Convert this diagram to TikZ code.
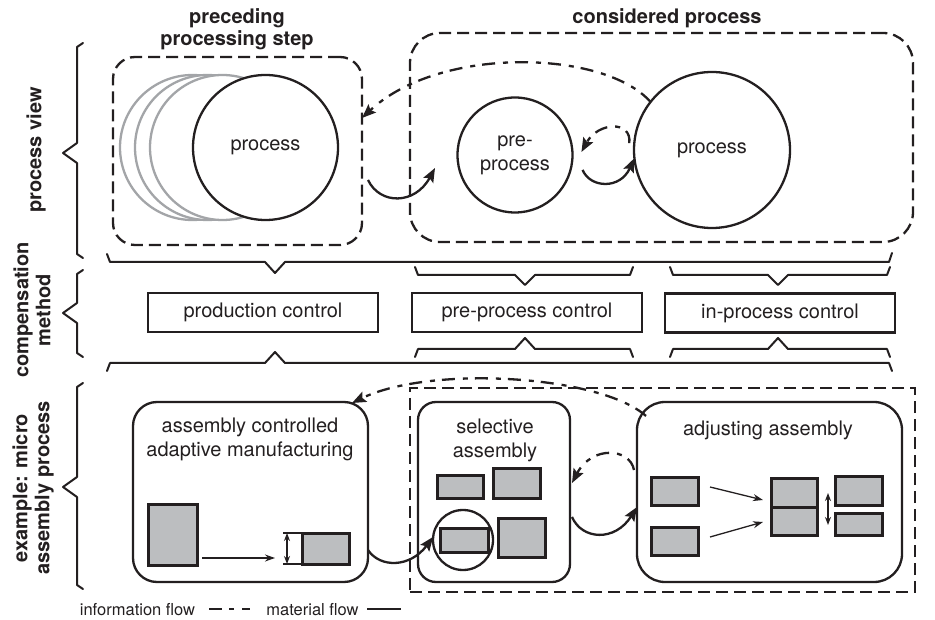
\documentclass[tikz,border=0pt]{standalone}
\usepackage{fontspec}
\setmainfont{TeX Gyre Heros}
\usetikzlibrary{arrows.meta}
\definecolor{ink}{HTML}{231F20}
\definecolor{gfill}{HTML}{BCBEC0}
\definecolor{gline}{HTML}{A3A5A8}
\begin{document}
\begin{tikzpicture}[x=1pt,y=-1pt,line width=2.3pt,color=ink,
  every node/.style={inner sep=0pt,outer sep=0pt},
  txt/.style={font=\fontsize{20}{24}\selectfont,align=center},
  btxt/.style={font=\fontsize{20}{22}\selectfont\bfseries,align=center},
  ltxt/.style={font=\fontsize{16.5}{18}\selectfont},
  dbox/.style={draw,dash pattern=on 12pt off 6pt,rounded corners=#1},
  sbox/.style={draw,rounded corners=#1},
  cbox/.style={draw,txt,minimum width=230pt,minimum height=39pt},
  gbox/.style={draw,fill=gfill,line width=3pt},
  tip/.style={-{Stealth[length=14pt,width=11pt,inset=2.5pt]}},
  info/.style={tip,dash pattern=on 13pt off 7pt on 5pt off 8pt},
  mat/.style={tip},
  thinarr/.style={line width=1.3pt,-{Stealth[length=10pt,width=7pt]}},
  dimarr/.style={line width=1.3pt,{Stealth[length=8pt,width=6pt]}-{Stealth[length=8pt,width=6pt]}},
  brc/.style={line width=2pt,line join=round,line cap=round}]
\useasboundingbox (0,0) rectangle (935,620);

% titles and side labels
\node[btxt] (t1) at (237,29) {preceding\\processing step};
\node[btxt] (t2) at (667,18) {considered process};
\node[btxt,rotate=90] (l1) at (36,150) {process view};
\node[btxt,rotate=90] (l2) at (32,310) {compensation\\method};
\node[btxt,rotate=90] (l3) at (33,488) {example: micro\\assembly process};

% side braces
\draw[brc] (83,43) -- (77,47) -- (77,143) -- (63,153) -- (77,163) -- (77,254) -- (83,258);
\draw[brc] (83,270) -- (77,274) -- (77,303) -- (63,313) -- (77,323) -- (77,353) -- (83,357);
\draw[brc] (83,383) -- (77,387) -- (77,477) -- (63,487) -- (77,497) -- (77,585) -- (83,589);

% process view: preceding step
\node[dbox=22pt,minimum width=249pt,minimum height=188pt] (prec) at (237.5,151) {};
\foreach \x/\n in {192.5/ga,207.5/gb,222.5/gc}
  \node[circle,draw=gline,fill=white,minimum size=145pt] (\n) at (\x,147.5) {};
\node[circle,draw,fill=white,minimum size=145pt,txt] (pp) at (265.5,147.5) {process};

% considered process
\node[dbox=30pt,minimum width=503pt,minimum height=209pt] (cons) at (661.5,137.5) {};
\node[circle,draw,minimum size=115pt,txt] (pre) at (515,155) {pre-\\process};
\node[circle,draw,minimum size=156pt,txt] (bigc) at (712,150) {process};

% flows in process view
\draw[info] (bigc.142) .. controls (605,50) and (440,45) .. ([yshift=33pt]prec.east);
\draw[mat] ([xshift=6pt,yshift=-29pt]prec.east) .. controls (380,205) and (415,205) .. ([xshift=-80pt,yshift=-13pt]pre.center);
\draw[info] ([xshift=-5pt]bigc.175) .. controls (632,120) and (598,122) .. ([xshift=9pt]pre.3);
\draw[mat] ([xshift=12pt]pre.-15) .. controls (590,188) and (620,190) .. (bigc.186);

% upper braces (tips down)
\draw[brc] (107,254) -- (110,262) -- (265,262) -- (275,273) -- (285,262) -- (889,262) -- (892,253);
\draw[brc] (415,267) -- (418,275) -- (515,275) -- (525,285) -- (535,275) -- (630,275) -- (633,267);
\draw[brc] (670,267) -- (673,275) -- (768,275) -- (778,285) -- (788,275) -- (887,275) -- (890,267);

% compensation methods
\node[cbox] (pc) at (263,312.5) {production control};
\node[cbox] (prc) at (527,312.5) {pre-process control};
\node[cbox] (ipc) at (780,313) {in-process control};

% lower braces (tips up)
\draw[brc] (415,357) -- (418,349) -- (515,349) -- (525,338) -- (535,349) -- (630,349) -- (633,357);
\draw[brc] (670,357) -- (673,349) -- (768,349) -- (778,338) -- (788,349) -- (887,349) -- (890,357);
\draw[brc] (107,371) -- (110,363) -- (265,363) -- (275,352) -- (285,363) -- (889,363) -- (892,371);

% example: micro assembly process
\node[draw,dash pattern=on 12pt off 6pt,minimum width=505pt,minimum height=204pt] (cons2) at (662.5,490) {};
\node[sbox=24pt,minimum width=235pt,minimum height=180pt] (asm) at (250.5,492) {};
\node[sbox=18pt,minimum width=152pt,minimum height=180pt] (sel) at (494,492) {};
\node[sbox=28pt,minimum width=265pt,minimum height=180pt] (adj) at (769.5,492) {};
\node[txt] (asmt) at (250,439.5) {assembly controlled\\adaptive manufacturing};
\node[txt] (selt) at (495,440) {selective\\assembly};
\node[txt] (adjt) at (768,430) {adjusting assembly};

% assembly controlled adaptive manufacturing
\node[gbox,minimum width=49pt,minimum height=61pt] (g1) at (172.5,534.5) {};
\node[gbox,minimum width=47pt,minimum height=31pt] (g2) at (325.5,548.5) {};
\draw[thinarr] ([xshift=5pt,yshift=-23.5pt]g1.east) -- ([xshift=-27pt,yshift=-9.5pt]g2.west);
\draw[line width=1.3pt] (g2.north west) -- ++(-19,0);
\draw[line width=1.3pt] (g2.south west) -- ++(-19,0);
\draw[dimarr] ([xshift=-15pt]g2.north west) -- ([xshift=-15pt]g2.south west);

% selective assembly
\node[gbox,minimum width=46pt,minimum height=23pt] (s1) at (460,486.5) {};
\node[gbox,minimum width=47pt,minimum height=30pt] (s2) at (516.5,483) {};
\node[gbox,minimum width=48pt,minimum height=24pt] (s3) at (464,540) {};
\node[gbox,minimum width=47pt,minimum height=39pt] (s4) at (521.5,537.5) {};
\node[circle,draw,minimum size=60pt] (cc) at (463,540) {};

% adjusting assembly
\node[gbox,minimum width=47pt,minimum height=28pt] (a1) at (674.5,491) {};
\node[gbox,minimum width=47pt,minimum height=28pt] (a2) at (674.5,541) {};
\node[gbox,minimum width=46pt,minimum height=29pt] (a3) at (794,492.5) {};
\node[gbox,minimum width=46pt,minimum height=28pt] (a4) at (794,521) {};
\node[gbox,minimum width=47pt,minimum height=29pt] (a5) at (858.5,490.5) {};
\node[gbox,minimum width=47pt,minimum height=22pt] (a6) at (858.5,524) {};
\draw[thinarr] ([xshift=12pt,yshift=4pt]a1.east) -- ([xshift=-8pt,yshift=-7.5pt]a3.west);
\draw[thinarr] ([xshift=12pt,yshift=4pt]a2.east) -- ([xshift=-8pt,yshift=-1pt]a4.west);
\draw[dimarr] (828,493) -- (828,525);

% flows in example
\draw[info] ([xshift=9pt,yshift=-14pt]adj.north west) .. controls (600,375) and (430,365) .. ([xshift=-16pt,yshift=-1pt]asm.north east);
\draw[mat] ([yshift=-58pt]asm.east) .. controls (380,568) and (410,568) .. (cc.174);
\draw[info] ([xshift=-3pt,yshift=22pt]adj.west) .. controls (630,448) and (592,445) .. ([xshift=2pt,yshift=9pt]sel.east);
\draw[mat] ([xshift=2pt,yshift=-25pt]sel.east) .. controls (582,540) and (615,542) .. ([yshift=-15pt]adj.west);

% legend
\node[ltxt] (lg1) at (137.5,610) {information flow};
\coordinate (li1) at (209,609);
\coordinate (li2) at (250,609);
\draw[dash pattern=on 13pt off 7pt on 5pt off 8pt] (li1) -- (li2);
\node[ltxt] (lg2) at (312.5,610) {material flow};
\coordinate (lm1) at (367,609);
\coordinate (lm2) at (401,609);
\draw (lm1) -- (lm2);
\end{tikzpicture}
\end{document}
